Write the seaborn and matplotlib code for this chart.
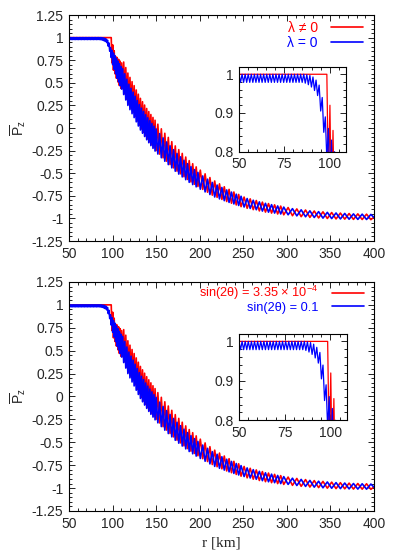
import matplotlib
matplotlib.use("Agg")
import matplotlib.pyplot as plt
from matplotlib.ticker import MultipleLocator, FuncFormatter
import seaborn as sns
import pandas as pd

# radius of the zig-zag vertices (km)
R_KM = [
    50.0, 50.85, 51.7, 52.55, 53.4, 54.25, 55.1, 55.95, 56.8, 57.65,
    58.5, 59.35, 60.2, 61.05, 61.9, 62.75, 63.6, 64.45, 65.3, 66.15,
    67.0, 67.85, 68.7, 69.55, 70.4, 71.25, 72.1, 72.95, 73.8, 74.65,
    75.5, 76.35, 77.2, 78.05, 78.9, 79.75, 80.6, 81.45, 82.3, 83.15,
    84.0, 84.85, 85.7, 86.55, 87.4, 88.25, 89.1, 89.95, 90.8, 91.65,
    92.5, 93.35, 94.2, 95.05, 95.9, 96.75, 97.6, 98.45, 99.3, 100.15,
    101.0, 101.85, 102.7, 103.55, 104.4, 105.25, 106.1, 106.95, 107.8, 108.65,
    109.5, 110.35,
    111.55, 112.75, 113.95, 115.15, 116.35, 117.55, 118.75, 119.95, 121.15, 122.35,
    123.55, 124.75, 125.95, 127.15, 128.35, 129.55, 130.75, 131.95, 133.15, 134.35,
    135.55, 136.75, 137.95, 139.15, 140.35, 141.55, 142.75, 143.95, 145.15, 146.35,
    147.55, 148.75, 149.95,
    151.95, 153.95, 155.95, 157.95, 159.95, 161.95, 163.95, 165.95, 167.95, 169.95,
    171.95, 173.95, 175.95, 177.95, 179.95, 181.95, 183.95, 185.95, 187.95, 189.95,
    191.95, 193.95, 195.95, 197.95,
    200.7, 203.45, 206.2, 208.95, 211.7, 214.45, 217.2, 219.95, 222.7, 225.45,
    228.2, 230.95, 233.7, 236.45, 239.2, 241.95, 244.7, 247.45,
    250.95, 254.45, 257.95, 261.45, 264.95, 268.45, 271.95, 275.45, 278.95, 282.45,
    285.95, 289.45, 292.95, 296.45,
    301.45, 306.45, 311.45, 316.45, 321.45, 326.45, 331.45, 336.45, 341.45, 346.45,
    351.45, 356.45, 361.45, 366.45, 371.45, 376.45, 381.45, 386.45, 391.45, 396.45,
    400.0,
]

# red curve (lambda != 0)
P_LAMBDA_ON = [
    1.0, 1.0, 1.0, 1.0, 1.0, 1.0, 1.0, 1.0, 1.0, 1.0,
    1.0, 1.0, 1.0, 1.0, 1.0, 1.0, 1.0, 1.0, 1.0, 1.0,
    1.0, 1.0, 1.0, 1.0, 1.0, 1.0, 1.0, 1.0, 1.0, 1.0,
    1.0, 1.0, 1.0, 1.0, 1.0, 1.0, 1.0, 1.0, 1.0, 1.0,
    1.0, 1.0, 1.0, 1.0, 1.0, 1.0, 1.0, 1.0, 1.0, 1.0,
    1.0, 1.0, 1.0, 1.0, 1.0, 1.0, 1.0, 1.0, 0.72, 0.92,
    0.64, 0.855, 0.60, 0.79, 0.55, 0.78, 0.51, 0.76, 0.47, 0.74,
    0.44, 0.72,
    0.435, 0.73, 0.379, 0.669, 0.318, 0.608, 0.262, 0.56, 0.216, 0.513,
    0.172, 0.469, 0.126, 0.421, 0.077, 0.374, 0.031, 0.328, -0.01, 0.291,
    -0.048, 0.254, -0.086, 0.216, -0.121, 0.182, -0.155, 0.149, -0.187, 0.117,
    -0.218, 0.086, -0.25,
    0.042, -0.289, -0.009, -0.33, -0.058, -0.367, -0.104, -0.404, -0.151, -0.441,
    -0.198, -0.477, -0.239, -0.507, -0.281, -0.539, -0.321, -0.569, -0.361, -0.597,
    -0.395, -0.622, -0.43, -0.647,
    -0.466, -0.679, -0.507, -0.71, -0.548, -0.743, -0.586, -0.767, -0.618, -0.79,
    -0.65, -0.813, -0.679, -0.832, -0.708, -0.851, -0.735, -0.87,
    -0.764, -0.888, -0.784, -0.903, -0.802, -0.917, -0.82, -0.93, -0.836, -0.941,
    -0.85, -0.951, -0.864, -0.96,
    -0.88, -0.97, -0.895, -0.981, -0.907, -0.989, -0.918, -0.995, -0.927, -1.001,
    -0.935, -1.006, -0.941, -1.008, -0.946, -1.011, -0.95, -1.012, -0.953, -1.014,
    -0.985,
]

# blue curve (lambda = 0)
P_LAMBDA_OFF = [
    1.0, 0.979, 1.0, 0.979, 1.0, 0.979, 1.0, 0.979, 1.0, 0.979,
    1.0, 0.979, 1.0, 0.979, 1.0, 0.979, 1.0, 0.979, 1.0, 0.979,
    1.0, 0.979, 1.0, 0.979, 1.0, 0.979, 1.0, 0.979, 1.0, 0.979,
    1.0, 0.979, 1.0, 0.979, 1.0, 0.979, 1.0, 0.979, 1.0, 0.979,
    1.0, 0.979, 1.0, 0.977, 0.999, 0.973, 0.997, 0.967, 0.993, 0.958,
    0.985, 0.945, 0.972, 0.905, 0.94, 0.85, 0.89, 0.78, 0.86, 0.70,
    0.83, 0.65, 0.80, 0.60, 0.77, 0.55, 0.74, 0.51, 0.71, 0.47,
    0.68, 0.43,
    0.655, 0.37, 0.60, 0.31, 0.54, 0.25, 0.485, 0.203, 0.44, 0.158,
    0.397, 0.115, 0.352, 0.068, 0.305, 0.022, 0.26, -0.022, 0.22, -0.058,
    0.184, -0.094, 0.147, -0.13, 0.113, -0.163, 0.081, -0.195, 0.05, -0.225,
    0.02, -0.255, -0.01,
    -0.288, -0.062, -0.329, -0.109, -0.368, -0.154, -0.405, -0.197, -0.441, -0.24,
    -0.478, -0.282, -0.51, -0.319, -0.541, -0.357, -0.572, -0.394, -0.601, -0.428,
    -0.626, -0.46, -0.651, -0.491,
    -0.677, -0.53, -0.707, -0.566, -0.736, -0.602, -0.763, -0.631, -0.784, -0.658,
    -0.804, -0.685, -0.823, -0.709, -0.84, -0.732, -0.857, -0.755,
    -0.874, -0.78, -0.89, -0.799, -0.904, -0.817, -0.919, -0.833, -0.931, -0.848,
    -0.941, -0.862, -0.951, -0.875,
    -0.96, -0.892, -0.972, -0.905, -0.982, -0.916, -0.99, -0.925, -0.997, -0.933,
    -1.002, -0.94, -1.006, -0.945, -1.009, -0.95, -1.011, -0.953, -1.012, -0.956,
    -0.99,
]

# the lower panel curves look the same as the upper ones
P_SIN_SMALL = P_LAMBDA_ON
P_SIN_LARGE = P_LAMBDA_OFF

TOP_LABELS = ["λ ≠ 0", "λ = 0"]
BOTTOM_LABELS = ["sin(2θ) = 3.35 × 10$^{-4}$", "sin(2θ) = 0.1"]
MAIN_XTICKS = [50, 100, 150, 200, 250, 300, 350, 400]
MAIN_YTICKS = [-1.25, -1, -0.75, -0.5, -0.25, 0, 0.25, 0.5, 0.75, 1, 1.25]
INSET_XTICKS = [50, 75, 100]
INSET_YTICKS = [0.8, 0.9, 1]

sns.set_style("ticks")
plt.rcParams["font.family"] = ["Liberation Sans", "DejaVu Sans"]
plt.rcParams["axes.unicode_minus"] = False
plt.rcParams["mathtext.fontset"] = "custom"
plt.rcParams["mathtext.rm"] = "Liberation Sans"
plt.rcParams["mathtext.it"] = "Liberation Sans:italic"

gfmt = FuncFormatter(lambda v, _: f"{v:g}")


def style_axes(ax, xticks, yticks, xminor, yminor):
    ax.set_xticks(xticks)
    ax.set_yticks(yticks)
    ax.xaxis.set_minor_locator(MultipleLocator(xminor))
    ax.yaxis.set_minor_locator(MultipleLocator(yminor))
    ax.xaxis.set_major_formatter(gfmt)
    ax.yaxis.set_major_formatter(gfmt)
    ax.tick_params(which="both", direction="in", top=True, right=True,
                   labelsize=10, color="black", width=0.6)
    ax.tick_params(which="major", length=4, pad=4)
    ax.tick_params(which="minor", length=2)
    for s in ax.spines.values():
        s.set_color("black")
        s.set_linewidth(0.8)


def draw_curves(ax, red, blue, lw, labels=(None, None)):
    df = pd.DataFrame({"r": R_KM, "red": red, "blue": blue})
    sns.lineplot(data=df, x="r", y="red", ax=ax, color="#ff0000", lw=lw,
                 sort=False, estimator=None, label=labels[0], legend=False)
    sns.lineplot(data=df, x="r", y="blue", ax=ax, color="#0000ff", lw=lw,
                 sort=False, estimator=None, label=labels[1], legend=False)


fig = plt.figure(figsize=(3.95, 5.52), dpi=100)

# main rect, inset rect, curves, labels, legend (y anchor, row spacing, font size)
panels = [
    ([0.1747, 0.5634, 0.7721, 0.4094], [0.605, 0.7252, 0.2709, 0.1529],
     P_LAMBDA_ON, P_LAMBDA_OFF, TOP_LABELS, 1.015, 0.05, 10),
    ([0.1747, 0.0743, 0.7721, 0.4149], [0.605, 0.2386, 0.2734, 0.1558],
     P_SIN_SMALL, P_SIN_LARGE, BOTTOM_LABELS, 1.03, -0.05, 9.2),
]

for i, (rect, irect, red, blue, labels, leg_y, leg_sp, leg_fs) in enumerate(panels):
    ax = fig.add_axes(rect)
    draw_curves(ax, red, blue, 1.2, labels)
    ax.set_xlim(50, 400)
    ax.set_ylim(-1.25, 1.25)
    style_axes(ax, MAIN_XTICKS, MAIN_YTICKS, 10, 0.05)
    ax.set_ylabel(r"$\overline{\mathrm{P}}_{\mathrm{z}}$", fontsize=10)
    ax.yaxis.set_label_coords(-0.135, 0.5)
    ax.set_xlabel("")
    handles, labs = ax.get_legend_handles_labels()
    em = leg_fs * 100 / 72
    ax.legend(handles, labs, loc="upper right", bbox_to_anchor=(0.995, leg_y),
              frameon=False, markerfirst=False, handlelength=32 / em,
              handletextpad=13 / em, labelspacing=leg_sp, borderaxespad=0.3,
              fontsize=leg_fs, labelcolor="linecolor")

    ins = fig.add_axes(irect)
    draw_curves(ins, red, blue, 0.9)
    ins.set_xlim(50, 109)
    ins.set_ylim(0.8, 1.018)
    style_axes(ins, INSET_XTICKS, INSET_YTICKS, 5, 0.02)
    ins.set_xlabel("")
    ins.set_ylabel("")

    if i == 1:
        ax.set_xlabel("r [km]", fontsize=11, family=["Liberation Serif", "DejaVu Serif"], labelpad=4)

fig.savefig("out.png", dpi=100)
